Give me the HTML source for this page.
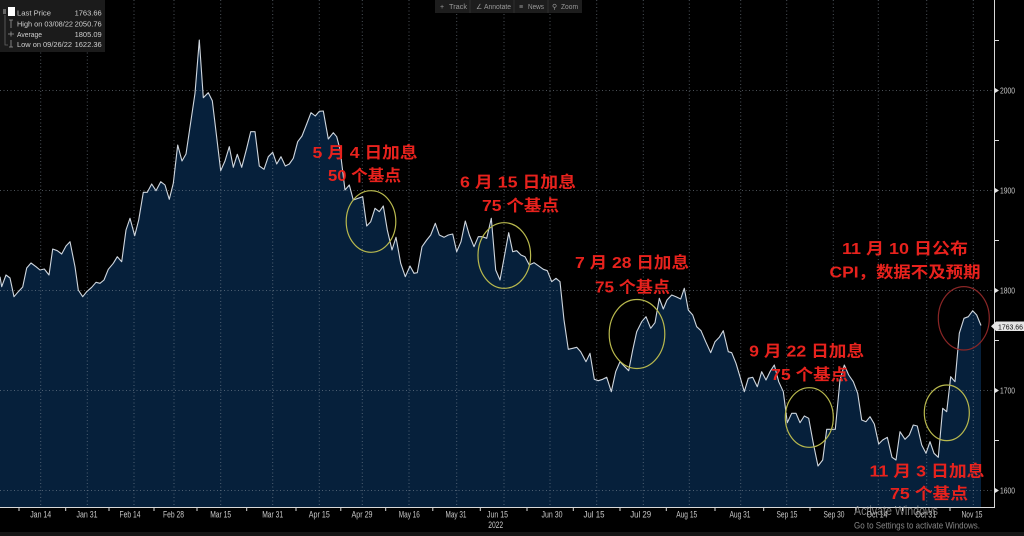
<!DOCTYPE html>
<html><head><meta charset="utf-8"><style>
html,body{margin:0;padding:0;background:#000;}
svg{display:block;}
.ax{font-family:"Liberation Sans",sans-serif;font-size:9px;fill:#c8c8c8;}
.lg{font-family:"Liberation Sans",sans-serif;font-size:7.5px;fill:#cfcfcf;}
.tb{font-family:"Liberation Sans",sans-serif;font-size:7px;fill:#9a9a9a;}
.rd{font-family:"Liberation Sans","Noto Sans CJK SC",sans-serif;font-size:16px;font-weight:bold;fill:#e8221d;}
</style></head><body>
<svg width="1024" height="536" viewBox="0 0 1024 536" xmlns="http://www.w3.org/2000/svg">
<rect x="0" y="0" width="1024" height="536" fill="#000"/>
<!-- fill -->
<path fill="#06203b" stroke="none" d="M0,507 L0,276.7 L1.7,286.7 L6,275 L10,278 L14,296.7 L18.3,291.7 L22.7,287 L26.7,268 L31,263 L36,266.7 L40,270 L44.3,269 L49,275 L52.7,249 L57.3,250.7 L61.7,254 L66,246 L70,241.7 L75,266.7 L78.3,290 L82.7,296.7 L86.7,291.7 L91.7,287.3 L96,282.3 L100,283.3 L104,280 L108.3,269.3 L113.3,263.3 L117.3,256.7 L121.7,261.7 L126,230 L130,218.3 L134.7,235.7 L138.7,220 L143.3,192.3 L147.3,192.3 L151.7,184 L156,190.7 L160.7,181.7 L165,185 L169.3,199.3 L173.3,183.3 L177.7,145 L182,161 L186,154 L195,93.3 L199.3,40 L203.3,97.7 L208.3,92.7 L212.3,100.7 L220.7,170.7 L225,161 L229.3,146.7 L233.3,167.3 L237.3,154.3 L241.7,167.3 L246.7,148.3 L250.7,131.7 L255,131.7 L259.3,166 L264,169.3 L268.3,156.7 L272.7,152.3 L276.7,164 L281,156.7 L285.3,166 L289.3,164 L293.3,158.3 L297.7,141.7 L302,136 L306.7,124 L311,112.7 L315.3,116 L319.3,111.3 L323.3,111 L328.3,139 L333.3,132.7 L336.7,136.7 L340,149.3 L345,190 L349.3,185 L353.3,200 L362.7,196.7 L366.7,226 L370.7,221.7 L375,208.3 L379.3,211.7 L383.3,206 L387.3,230 L392,250 L396,237.3 L400.7,263.3 L405.3,276.7 L410,266 L414,273.3 L417.3,272.7 L422,246.7 L426.7,240 L430.7,235 L435.3,223.3 L439.3,235 L444,237.3 L448.3,235 L452.7,234 L456.7,251.7 L461,241.7 L465.3,221 L469.3,235 L474,246.7 L478.3,236.7 L482.3,236.7 L486.7,238.3 L491.3,218.3 L495.7,270 L500,280 L504.3,256.7 L508.7,232.7 L512.7,251.7 L516.7,250.7 L521,255 L525,256.7 L529.3,265 L534,262.7 L538.3,265.7 L543.3,269.3 L547.3,270.7 L551.7,281.7 L556,278.3 L560,281.7 L564,320 L568.3,349.3 L572.7,348.3 L576.7,347.3 L580.7,351.7 L586,361.7 L590,353.3 L594.3,379.3 L598.3,380.7 L602.7,379.3 L606.7,377.3 L611.3,391.7 L615.7,371.7 L620,361.7 L624.7,366.7 L628.7,370.7 L632.7,350 L636.7,331.7 L641.7,321.7 L646,316.7 L650.7,328.3 L655,322.7 L659.3,298.3 L663.3,309 L667,300 L671.7,295 L676,296.7 L680.7,299 L684.3,288.3 L688.3,310 L692.7,315 L696.7,326.7 L701,330.7 L705.7,341.7 L710.7,352.7 L715,341.7 L719.3,337.3 L723.3,330.7 L728.3,351.7 L731.7,352.7 L736,363.3 L740,376.7 L744.3,391.7 L748.3,378.3 L752.7,377.3 L757.3,386.7 L761.7,371.7 L766,380 L770,371.7 L774.3,365 L778.7,381.7 L783.3,391.7 L787.3,422.7 L791.7,413.3 L796,413.3 L800,422.7 L804.3,416 L808.7,418.3 L813.3,443.3 L818,466 L822.7,460 L826.7,429.3 L831,429.3 L835.3,429.3 L840,380 L844.3,365 L848.7,375 L853.3,381.7 L857.7,393.3 L861.7,420 L866,421.7 L870,416.7 L874.3,424 L878.7,444 L882.7,440 L887.3,437.3 L892,457.3 L896,460 L900,431.7 L905,439.3 L909.3,435 L913.3,425 L917.3,426 L921.7,445 L926,453.3 L930,441.7 L934,453.3 L938.3,457.3 L942.7,408.3 L946.7,411.7 L950.7,376.7 L955,381.7 L959.3,333.3 L964,318.3 L968.3,316.7 L972.7,310.7 L976.7,315 L981,325.5 L981,507 Z"/>
<!-- grid -->
<g stroke="#8a96a2" stroke-opacity="0.55" stroke-width="1" stroke-dasharray="1,2.5" fill="none">
<line x1="0" y1="90.5" x2="994" y2="90.5"/>
<line x1="0" y1="190.5" x2="994" y2="190.5"/>
<line x1="0" y1="290.5" x2="994" y2="290.5"/>
<line x1="0" y1="390.5" x2="994" y2="390.5"/>
<line x1="0" y1="490.5" x2="994" y2="490.5"/>
<line x1="40.7" y1="0" x2="40.7" y2="507"/>
<line x1="87.3" y1="0" x2="87.3" y2="507"/>
<line x1="134" y1="0" x2="134" y2="507"/>
<line x1="174" y1="0" x2="174" y2="507"/>
<line x1="220.7" y1="0" x2="220.7" y2="507"/>
<line x1="272.7" y1="0" x2="272.7" y2="507"/>
<line x1="319.3" y1="0" x2="319.3" y2="507"/>
<line x1="362.3" y1="0" x2="362.3" y2="507"/>
<line x1="409" y1="0" x2="409" y2="507"/>
<line x1="456.7" y1="0" x2="456.7" y2="507"/>
<line x1="504" y1="0" x2="504" y2="507"/>
<line x1="550" y1="0" x2="550" y2="507"/>
<line x1="596.7" y1="0" x2="596.7" y2="507"/>
<line x1="643.3" y1="0" x2="643.3" y2="507"/>
<line x1="689.3" y1="0" x2="689.3" y2="507"/>
<line x1="740.7" y1="0" x2="740.7" y2="507"/>
<line x1="786.7" y1="0" x2="786.7" y2="507"/>
<line x1="833.3" y1="0" x2="833.3" y2="507"/>
<line x1="878.3" y1="0" x2="878.3" y2="507"/>
<line x1="926.7" y1="0" x2="926.7" y2="507"/>
<line x1="973.3" y1="0" x2="973.3" y2="507"/>
</g>
<!-- price line -->
<path fill="none" stroke="#cfd6de" stroke-width="1.1" stroke-linejoin="round" d="M0,276.7 L1.7,286.7 L6,275 L10,278 L14,296.7 L18.3,291.7 L22.7,287 L26.7,268 L31,263 L36,266.7 L40,270 L44.3,269 L49,275 L52.7,249 L57.3,250.7 L61.7,254 L66,246 L70,241.7 L75,266.7 L78.3,290 L82.7,296.7 L86.7,291.7 L91.7,287.3 L96,282.3 L100,283.3 L104,280 L108.3,269.3 L113.3,263.3 L117.3,256.7 L121.7,261.7 L126,230 L130,218.3 L134.7,235.7 L138.7,220 L143.3,192.3 L147.3,192.3 L151.7,184 L156,190.7 L160.7,181.7 L165,185 L169.3,199.3 L173.3,183.3 L177.7,145 L182,161 L186,154 L195,93.3 L199.3,40 L203.3,97.7 L208.3,92.7 L212.3,100.7 L220.7,170.7 L225,161 L229.3,146.7 L233.3,167.3 L237.3,154.3 L241.7,167.3 L246.7,148.3 L250.7,131.7 L255,131.7 L259.3,166 L264,169.3 L268.3,156.7 L272.7,152.3 L276.7,164 L281,156.7 L285.3,166 L289.3,164 L293.3,158.3 L297.7,141.7 L302,136 L306.7,124 L311,112.7 L315.3,116 L319.3,111.3 L323.3,111 L328.3,139 L333.3,132.7 L336.7,136.7 L340,149.3 L345,190 L349.3,185 L353.3,200 L362.7,196.7 L366.7,226 L370.7,221.7 L375,208.3 L379.3,211.7 L383.3,206 L387.3,230 L392,250 L396,237.3 L400.7,263.3 L405.3,276.7 L410,266 L414,273.3 L417.3,272.7 L422,246.7 L426.7,240 L430.7,235 L435.3,223.3 L439.3,235 L444,237.3 L448.3,235 L452.7,234 L456.7,251.7 L461,241.7 L465.3,221 L469.3,235 L474,246.7 L478.3,236.7 L482.3,236.7 L486.7,238.3 L491.3,218.3 L495.7,270 L500,280 L504.3,256.7 L508.7,232.7 L512.7,251.7 L516.7,250.7 L521,255 L525,256.7 L529.3,265 L534,262.7 L538.3,265.7 L543.3,269.3 L547.3,270.7 L551.7,281.7 L556,278.3 L560,281.7 L564,320 L568.3,349.3 L572.7,348.3 L576.7,347.3 L580.7,351.7 L586,361.7 L590,353.3 L594.3,379.3 L598.3,380.7 L602.7,379.3 L606.7,377.3 L611.3,391.7 L615.7,371.7 L620,361.7 L624.7,366.7 L628.7,370.7 L632.7,350 L636.7,331.7 L641.7,321.7 L646,316.7 L650.7,328.3 L655,322.7 L659.3,298.3 L663.3,309 L667,300 L671.7,295 L676,296.7 L680.7,299 L684.3,288.3 L688.3,310 L692.7,315 L696.7,326.7 L701,330.7 L705.7,341.7 L710.7,352.7 L715,341.7 L719.3,337.3 L723.3,330.7 L728.3,351.7 L731.7,352.7 L736,363.3 L740,376.7 L744.3,391.7 L748.3,378.3 L752.7,377.3 L757.3,386.7 L761.7,371.7 L766,380 L770,371.7 L774.3,365 L778.7,381.7 L783.3,391.7 L787.3,422.7 L791.7,413.3 L796,413.3 L800,422.7 L804.3,416 L808.7,418.3 L813.3,443.3 L818,466 L822.7,460 L826.7,429.3 L831,429.3 L835.3,429.3 L840,380 L844.3,365 L848.7,375 L853.3,381.7 L857.7,393.3 L861.7,420 L866,421.7 L870,416.7 L874.3,424 L878.7,444 L882.7,440 L887.3,437.3 L892,457.3 L896,460 L900,431.7 L905,439.3 L909.3,435 L913.3,425 L917.3,426 L921.7,445 L926,453.3 L930,441.7 L934,453.3 L938.3,457.3 L942.7,408.3 L946.7,411.7 L950.7,376.7 L955,381.7 L959.3,333.3 L964,318.3 L968.3,316.7 L972.7,310.7 L976.7,315 L981,325.5"/>
<!-- axes -->
<line x1="0" y1="507.5" x2="995" y2="507.5" stroke="#d8d8d8" stroke-width="1"/>
<line x1="994.5" y1="0" x2="994.5" y2="508" stroke="#d8d8d8" stroke-width="1"/>
<g stroke="#d8d8d8" stroke-width="1">
<line x1="19" y1="508" x2="19" y2="511"/><line x1="65.7" y1="508" x2="65.7" y2="511"/><line x1="109" y1="508" x2="109" y2="511"/>
<line x1="154" y1="508" x2="154" y2="511"/><line x1="197" y1="508" x2="197" y2="511"/><line x1="246.7" y1="508" x2="246.7" y2="511"/>
<line x1="296" y1="508" x2="296" y2="511"/><line x1="340.8" y1="508" x2="340.8" y2="511"/><line x1="385.7" y1="508" x2="385.7" y2="511"/>
<line x1="432.8" y1="508" x2="432.8" y2="511"/><line x1="480.3" y1="508" x2="480.3" y2="511"/><line x1="527" y1="508" x2="527" y2="511"/>
<line x1="573.3" y1="508" x2="573.3" y2="511"/><line x1="620" y1="508" x2="620" y2="511"/><line x1="666.3" y1="508" x2="666.3" y2="511"/>
<line x1="715" y1="508" x2="715" y2="511"/><line x1="763.7" y1="508" x2="763.7" y2="511"/><line x1="810" y1="508" x2="810" y2="511"/>
<line x1="855.8" y1="508" x2="855.8" y2="511"/><line x1="902.5" y1="508" x2="902.5" y2="511"/><line x1="950" y1="508" x2="950" y2="511"/>
<line x1="995" y1="140.5" x2="999" y2="140.5"/><line x1="995" y1="240.5" x2="999" y2="240.5"/><line x1="995" y1="340.5" x2="999" y2="340.5"/><line x1="995" y1="440.5" x2="999" y2="440.5"/><line x1="995" y1="40.5" x2="999" y2="40.5"/>
</g>
<g fill="#e0e0e0">
<polygon points="995,88 999,90.5 995,93"/><polygon points="995,188 999,190.5 995,193"/><polygon points="995,288 999,290.5 995,293"/><polygon points="995,388 999,390.5 995,393"/><polygon points="995,488 999,490.5 995,493"/>
</g>
<g class="ax" style="font-size:8.5px">
<text x="1000" y="93.5" textLength="15" lengthAdjust="spacingAndGlyphs">2000</text>
<text x="1000" y="193.5" textLength="15" lengthAdjust="spacingAndGlyphs">1900</text>
<text x="1000" y="293.5" textLength="15" lengthAdjust="spacingAndGlyphs">1800</text>
<text x="1000" y="393.5" textLength="15" lengthAdjust="spacingAndGlyphs">1700</text>
<text x="1000" y="493.5" textLength="15" lengthAdjust="spacingAndGlyphs">1600</text>
</g>
<!-- last price tag -->
<path d="M991,326.3 L996,321.5 L1024,321.5 L1024,331 L996,331 Z" fill="#e6e6e6"/>
<text x="998" y="329.3" style="font-family:'Liberation Sans',sans-serif;font-size:7px;fill:#111" textLength="25" lengthAdjust="spacingAndGlyphs">1763.66</text>
<!-- bottom labels -->
<g class="ax" text-anchor="middle">
<text x="40.7" y="517.5" textLength="21" lengthAdjust="spacingAndGlyphs">Jan 14</text>
<text x="87" y="517.5" textLength="21" lengthAdjust="spacingAndGlyphs">Jan 31</text>
<text x="130" y="517.5" textLength="21" lengthAdjust="spacingAndGlyphs">Feb 14</text>
<text x="173.5" y="517.5" textLength="21" lengthAdjust="spacingAndGlyphs">Feb 28</text>
<text x="220.7" y="517.5" textLength="21" lengthAdjust="spacingAndGlyphs">Mar 15</text>
<text x="272.7" y="517.5" textLength="21" lengthAdjust="spacingAndGlyphs">Mar 31</text>
<text x="319.3" y="517.5" textLength="21" lengthAdjust="spacingAndGlyphs">Apr 15</text>
<text x="362" y="517.5" textLength="21" lengthAdjust="spacingAndGlyphs">Apr 29</text>
<text x="409.3" y="517.5" textLength="21" lengthAdjust="spacingAndGlyphs">May 16</text>
<text x="456" y="517.5" textLength="21" lengthAdjust="spacingAndGlyphs">May 31</text>
<text x="497.5" y="517.5" textLength="21" lengthAdjust="spacingAndGlyphs">Jun 15</text>
<text x="495.7" y="528" textLength="15" lengthAdjust="spacingAndGlyphs">2022</text>
<text x="552" y="517.5" textLength="21" lengthAdjust="spacingAndGlyphs">Jun 30</text>
<text x="594" y="517.5" textLength="21" lengthAdjust="spacingAndGlyphs">Jul 15</text>
<text x="640.7" y="517.5" textLength="21" lengthAdjust="spacingAndGlyphs">Jul 29</text>
<text x="686.7" y="517.5" textLength="21" lengthAdjust="spacingAndGlyphs">Aug 15</text>
<text x="740" y="517.5" textLength="21" lengthAdjust="spacingAndGlyphs">Aug 31</text>
<text x="787" y="517.5" textLength="21" lengthAdjust="spacingAndGlyphs">Sep 15</text>
<text x="834" y="517.5" textLength="21" lengthAdjust="spacingAndGlyphs">Sep 30</text>
<text x="877" y="517.5" textLength="21" lengthAdjust="spacingAndGlyphs">Oct 14</text>
<text x="925.7" y="517.5" textLength="21" lengthAdjust="spacingAndGlyphs">Oct 31</text>
<text x="972" y="517.5" textLength="21" lengthAdjust="spacingAndGlyphs">Nov 15</text>
</g>
<rect x="0" y="532" width="1024" height="4" fill="#151515"/>
<!-- legend -->
<rect x="0" y="0" width="105" height="52" fill="#1b1b1b"/>
<rect x="3" y="9" width="3" height="5" fill="#666"/>
<rect x="8" y="7" width="7" height="9" fill="#ffffff"/>
<path d="M5,15 L5,45 L8,45" stroke="#666" fill="none" stroke-width="0.8"/>
<path d="M9,20 L13,20 M11,20 L11,28" stroke="#999" stroke-width="0.8"/>
<path d="M8,34 L14,34 M11,31.5 L11,36.5" stroke="#999" stroke-width="0.8"/>
<path d="M11,40 L11,47 M9,47 L13,47" stroke="#999" stroke-width="0.8"/>
<g class="lg">
<text x="17" y="15.5" textLength="34" lengthAdjust="spacingAndGlyphs">Last Price</text>
<text x="17" y="26.5" textLength="56" lengthAdjust="spacingAndGlyphs">High on 03/08/22</text>
<text x="17" y="37" textLength="25" lengthAdjust="spacingAndGlyphs">Average</text>
<text x="17" y="47" textLength="55" lengthAdjust="spacingAndGlyphs">Low on 09/26/22</text>
<text x="101.7" y="15.5" text-anchor="end">1763.66</text>
<text x="101.7" y="26.5" text-anchor="end">2050.76</text>
<text x="101.7" y="37" text-anchor="end">1805.09</text>
<text x="101.7" y="47" text-anchor="end">1622.36</text>
</g>
<!-- toolbar -->
<rect x="435" y="0" width="147" height="13" fill="#1d1d1d"/>
<g stroke="#2e2e2e" stroke-width="1"><line x1="470" y1="0" x2="470" y2="13"/><line x1="514" y1="0" x2="514" y2="13"/><line x1="548" y1="0" x2="548" y2="13"/></g>
<g class="tb">
<text x="440" y="8.8">+</text><text x="449" y="8.8" textLength="18" lengthAdjust="spacingAndGlyphs">Track</text>
<text x="476" y="8.8">∠</text><text x="484" y="8.8" textLength="27" lengthAdjust="spacingAndGlyphs">Annotate</text>
<text x="519" y="8.8">≡</text><text x="528" y="8.8" textLength="16" lengthAdjust="spacingAndGlyphs">News</text>
<text x="552" y="8.8">⚲</text><text x="561" y="8.8" textLength="17" lengthAdjust="spacingAndGlyphs">Zoom</text>
</g>
<!-- circles -->
<g fill="none" stroke="#b9b94e" stroke-width="1.2">
<ellipse cx="371" cy="221.5" rx="24.8" ry="30.8"/>
<ellipse cx="504.3" cy="255.5" rx="26.3" ry="32.8"/>
<ellipse cx="637" cy="334" rx="27.8" ry="34.5"/>
<ellipse cx="809.3" cy="417.5" rx="24" ry="29.8"/>
<ellipse cx="946.8" cy="412.8" rx="22.5" ry="27.8"/>
</g>
<ellipse cx="963.8" cy="318.3" rx="25.5" ry="31.7" fill="none" stroke="#8a2626" stroke-width="1.2"/>
<!-- watermark -->
<text x="854" y="515" style="font-family:'Liberation Sans',sans-serif;font-size:12.5px;fill:#a8a8a8;fill-opacity:0.75" textLength="84" lengthAdjust="spacingAndGlyphs">Activate Windows</text>
<text x="854" y="528.3" style="font-family:'Liberation Sans',sans-serif;font-size:9.5px;fill:#a8a8a8;fill-opacity:0.8" textLength="126" lengthAdjust="spacingAndGlyphs">Go to Settings to activate Windows.</text>
<!-- annotations -->
<g class="rd" text-anchor="middle">
<text x="365" y="158" textLength="105" lengthAdjust="spacingAndGlyphs">5 月 4 日加息</text>
<text x="364.5" y="181" textLength="73" lengthAdjust="spacingAndGlyphs">50 个基点</text>
<text x="518" y="187.5" textLength="116" lengthAdjust="spacingAndGlyphs">6 月 15 日加息</text>
<text x="520.5" y="211" textLength="77" lengthAdjust="spacingAndGlyphs">75 个基点</text>
<text x="632" y="268" textLength="114" lengthAdjust="spacingAndGlyphs">7 月 28 日加息</text>
<text x="632.5" y="292.5" textLength="75" lengthAdjust="spacingAndGlyphs">75 个基点</text>
<text x="806.7" y="356.5" textLength="115" lengthAdjust="spacingAndGlyphs">9 月 22 日加息</text>
<text x="809.7" y="380" textLength="77" lengthAdjust="spacingAndGlyphs">75 个基点</text>
<text x="905" y="254" textLength="126" lengthAdjust="spacingAndGlyphs">11 月 10 日公布</text>
<text x="905" y="277.5" textLength="151" lengthAdjust="spacingAndGlyphs">CPI，数据不及预期</text>
<text x="927" y="476.5" textLength="115" lengthAdjust="spacingAndGlyphs">11 月 3 日加息</text>
<text x="929" y="499" textLength="78" lengthAdjust="spacingAndGlyphs">75 个基点</text>
</g>
</svg>
</body></html>
